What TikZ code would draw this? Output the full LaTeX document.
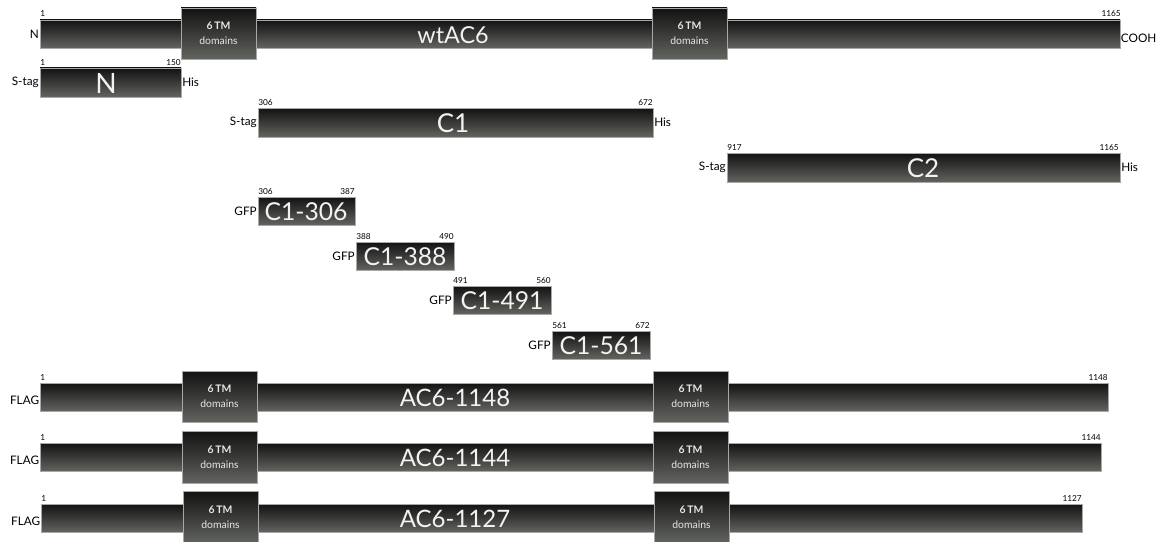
\documentclass[tikz,border=0pt]{standalone}
\usepackage{fontspec}
\setmainfont{Lato}
\usetikzlibrary{fit}
\definecolor{bartop}{HTML}{121212}
\definecolor{barbot}{HTML}{62645F}
\definecolor{barline}{HTML}{A8A8A8}
\definecolor{lbl}{HTML}{F2F2F2}
\tikzset{
  seg/.style={rectangle, inner sep=0pt, draw=barline, line width=0.5pt, top color=bartop, bottom color=barbot},
  big/.style={text=lbl, inner sep=0pt, font=\fontsize{17.5}{20}\selectfont},
  frag/.style={text=lbl, inner sep=0pt, font=\fontsize{18.5}{22}\selectfont},
  huge/.style={text=lbl, inner sep=0pt, font=\fontsize{21}{24}\selectfont},
  tm/.style={text=lbl!90!gray, align=center, inner sep=0pt, font=\fontsize{7.8}{11}\selectfont},
  num/.style={inner sep=0pt, font=\fontsize{6.2}{7}\selectfont},
  side/.style={inner sep=0.5pt, font=\fontsize{8.8}{10}\selectfont},
}
\newcommand\seg[5]{\node[seg, fit={(#2,#3) (#4,#5)}] (#1) {};}
\newcommand\tmtext[1]{\node[tm] (#1t) at (#1.center) {\textbf{6\,TM}\\domains};}
\begin{document}
\begin{tikzpicture}[x=0.75pt, y=-0.75pt]
\useasboundingbox (0,0) rectangle (1174,542);
% ---------- wtAC6 ----------
\seg{wt}{40}{20}{1120}{48}
\seg{wtA}{181}{8}{256}{59}
\seg{wtB}{652}{8}{727}{59}
\tmtext{wtA}\tmtext{wtB}
\node[big] (wtl) at (453,35) {wtAC6};
\node[num, anchor=base west] (wt1) at (40,17) {1};
\node[num, anchor=base east] (wt2) at (1121,17) {1165};
\node[side, anchor=east] (wtN) at (wt.west) {N};
\node[side, anchor=west] (wtC) at (1120,38) {COOH};
% ---------- N ----------
\seg{n}{40}{68}{181}{97}
\node[huge] (nl) at (106,83) {N};
\node[num, anchor=base west] (n1) at (40,65) {1};
\node[num, anchor=base east] (n2) at (181,65) {150};
\node[side, anchor=east] (ns) at (n.west) {S-tag};
\node[side, anchor=west] (nh) at (n.east) {His};
% ---------- C1 ----------
\seg{ca}{258}{108}{653}{137}
\node[big, font=\fontsize{19.5}{22}\selectfont] (cal) at (453,123) {C1};
\node[num, anchor=base west] (ca1) at (258,105) {306};
\node[num, anchor=base east] (ca2) at (653,105) {672};
\node[side, anchor=east] (cas) at (ca.west) {S-tag};
\node[side, anchor=west] (cah) at (ca.east) {His};
% ---------- C2 ----------
\seg{cb}{727}{153}{1120}{182}
\node[big, font=\fontsize{19.5}{22}\selectfont] (cbl) at (923,168) {C2};
\node[num, anchor=base west] (cb1) at (727,150) {917};
\node[num, anchor=base east] (cb2) at (1119,150) {1165};
\node[side, anchor=east] (cbs) at (cb.west) {S-tag};
\node[side, anchor=west] (cbh) at (cb.east) {His};
% ---------- C1 fragments ----------
\seg{fa}{258}{197}{355}{225}
\node[frag] (fal) at (306,212) {C1-306};
\node[num, anchor=base west] (fa1) at (258,194) {306};
\node[num, anchor=base east] (fa2) at (355,194) {387};
\node[side, anchor=east] (fag) at (fa.west) {GFP};
\seg{fb}{356}{242}{454}{270}
\node[frag] (fbl) at (405,257) {C1-388};
\node[num, anchor=base west] (fb1) at (356,239) {388};
\node[num, anchor=base east] (fb2) at (454,239) {490};
\node[side, anchor=east] (fbg) at (fb.west) {GFP};
\seg{fc}{453}{286}{551}{314}
\node[frag] (fcl) at (502,301) {C1-491};
\node[num, anchor=base west] (fc1) at (453,283) {491};
\node[num, anchor=base east] (fc2) at (551,283) {560};
\node[side, anchor=east] (fcg) at (fc.west) {GFP};
\seg{fd}{552}{331}{650}{359}
\node[frag] (fdl) at (601,346) {C1-561};
\node[num, anchor=base west] (fd1) at (552,328) {561};
\node[num, anchor=base east] (fd2) at (650,328) {672};
\node[side, anchor=east] (fdg) at (fd.west) {GFP};
% ---------- AC6-1148 ----------
\seg{ra}{40}{383}{1108}{411}
\seg{raA}{182}{371}{257}{422}
\seg{raB}{653}{371}{728}{422}
\tmtext{raA}\tmtext{raB}
\node[big, font=\fontsize{18}{20}\selectfont] (ral) at (455,398) {AC6-1148};
\node[num, anchor=base west] (ra1) at (40,380) {1};
\node[num, anchor=base east] (ra2) at (1108,380) {1148};
\node[side, anchor=east] (raf) at (40,400) {FLAG};
% ---------- AC6-1144 ----------
\seg{rb}{40}{443}{1101}{471}
\seg{rbA}{182}{431}{257}{483}
\seg{rbB}{653}{431}{728}{483}
\tmtext{rbA}\tmtext{rbB}
\node[big, font=\fontsize{18}{20}\selectfont] (rbl) at (455,458) {AC6-1144};
\node[num, anchor=base west] (rb1) at (40,440) {1};
\node[num, anchor=base east] (rb2) at (1101,440) {1144};
\node[side, anchor=east] (rbf) at (40,460) {FLAG};
% ---------- AC6-1127 ----------
\seg{rc}{41}{504}{1082}{532}
\seg{rcA}{183}{491}{258}{543}
\seg{rcB}{654}{491}{729}{543}
\tmtext{rcA}\tmtext{rcB}
\node[big, font=\fontsize{18}{20}\selectfont] (rcl) at (455,519) {AC6-1127};
\node[num, anchor=base west] (rc1) at (41,501) {1};
\node[num, anchor=base east] (rc2) at (1082,501) {1127};
\node[side, anchor=east] (rcf) at (41,521) {FLAG};
\end{tikzpicture}
\end{document}
